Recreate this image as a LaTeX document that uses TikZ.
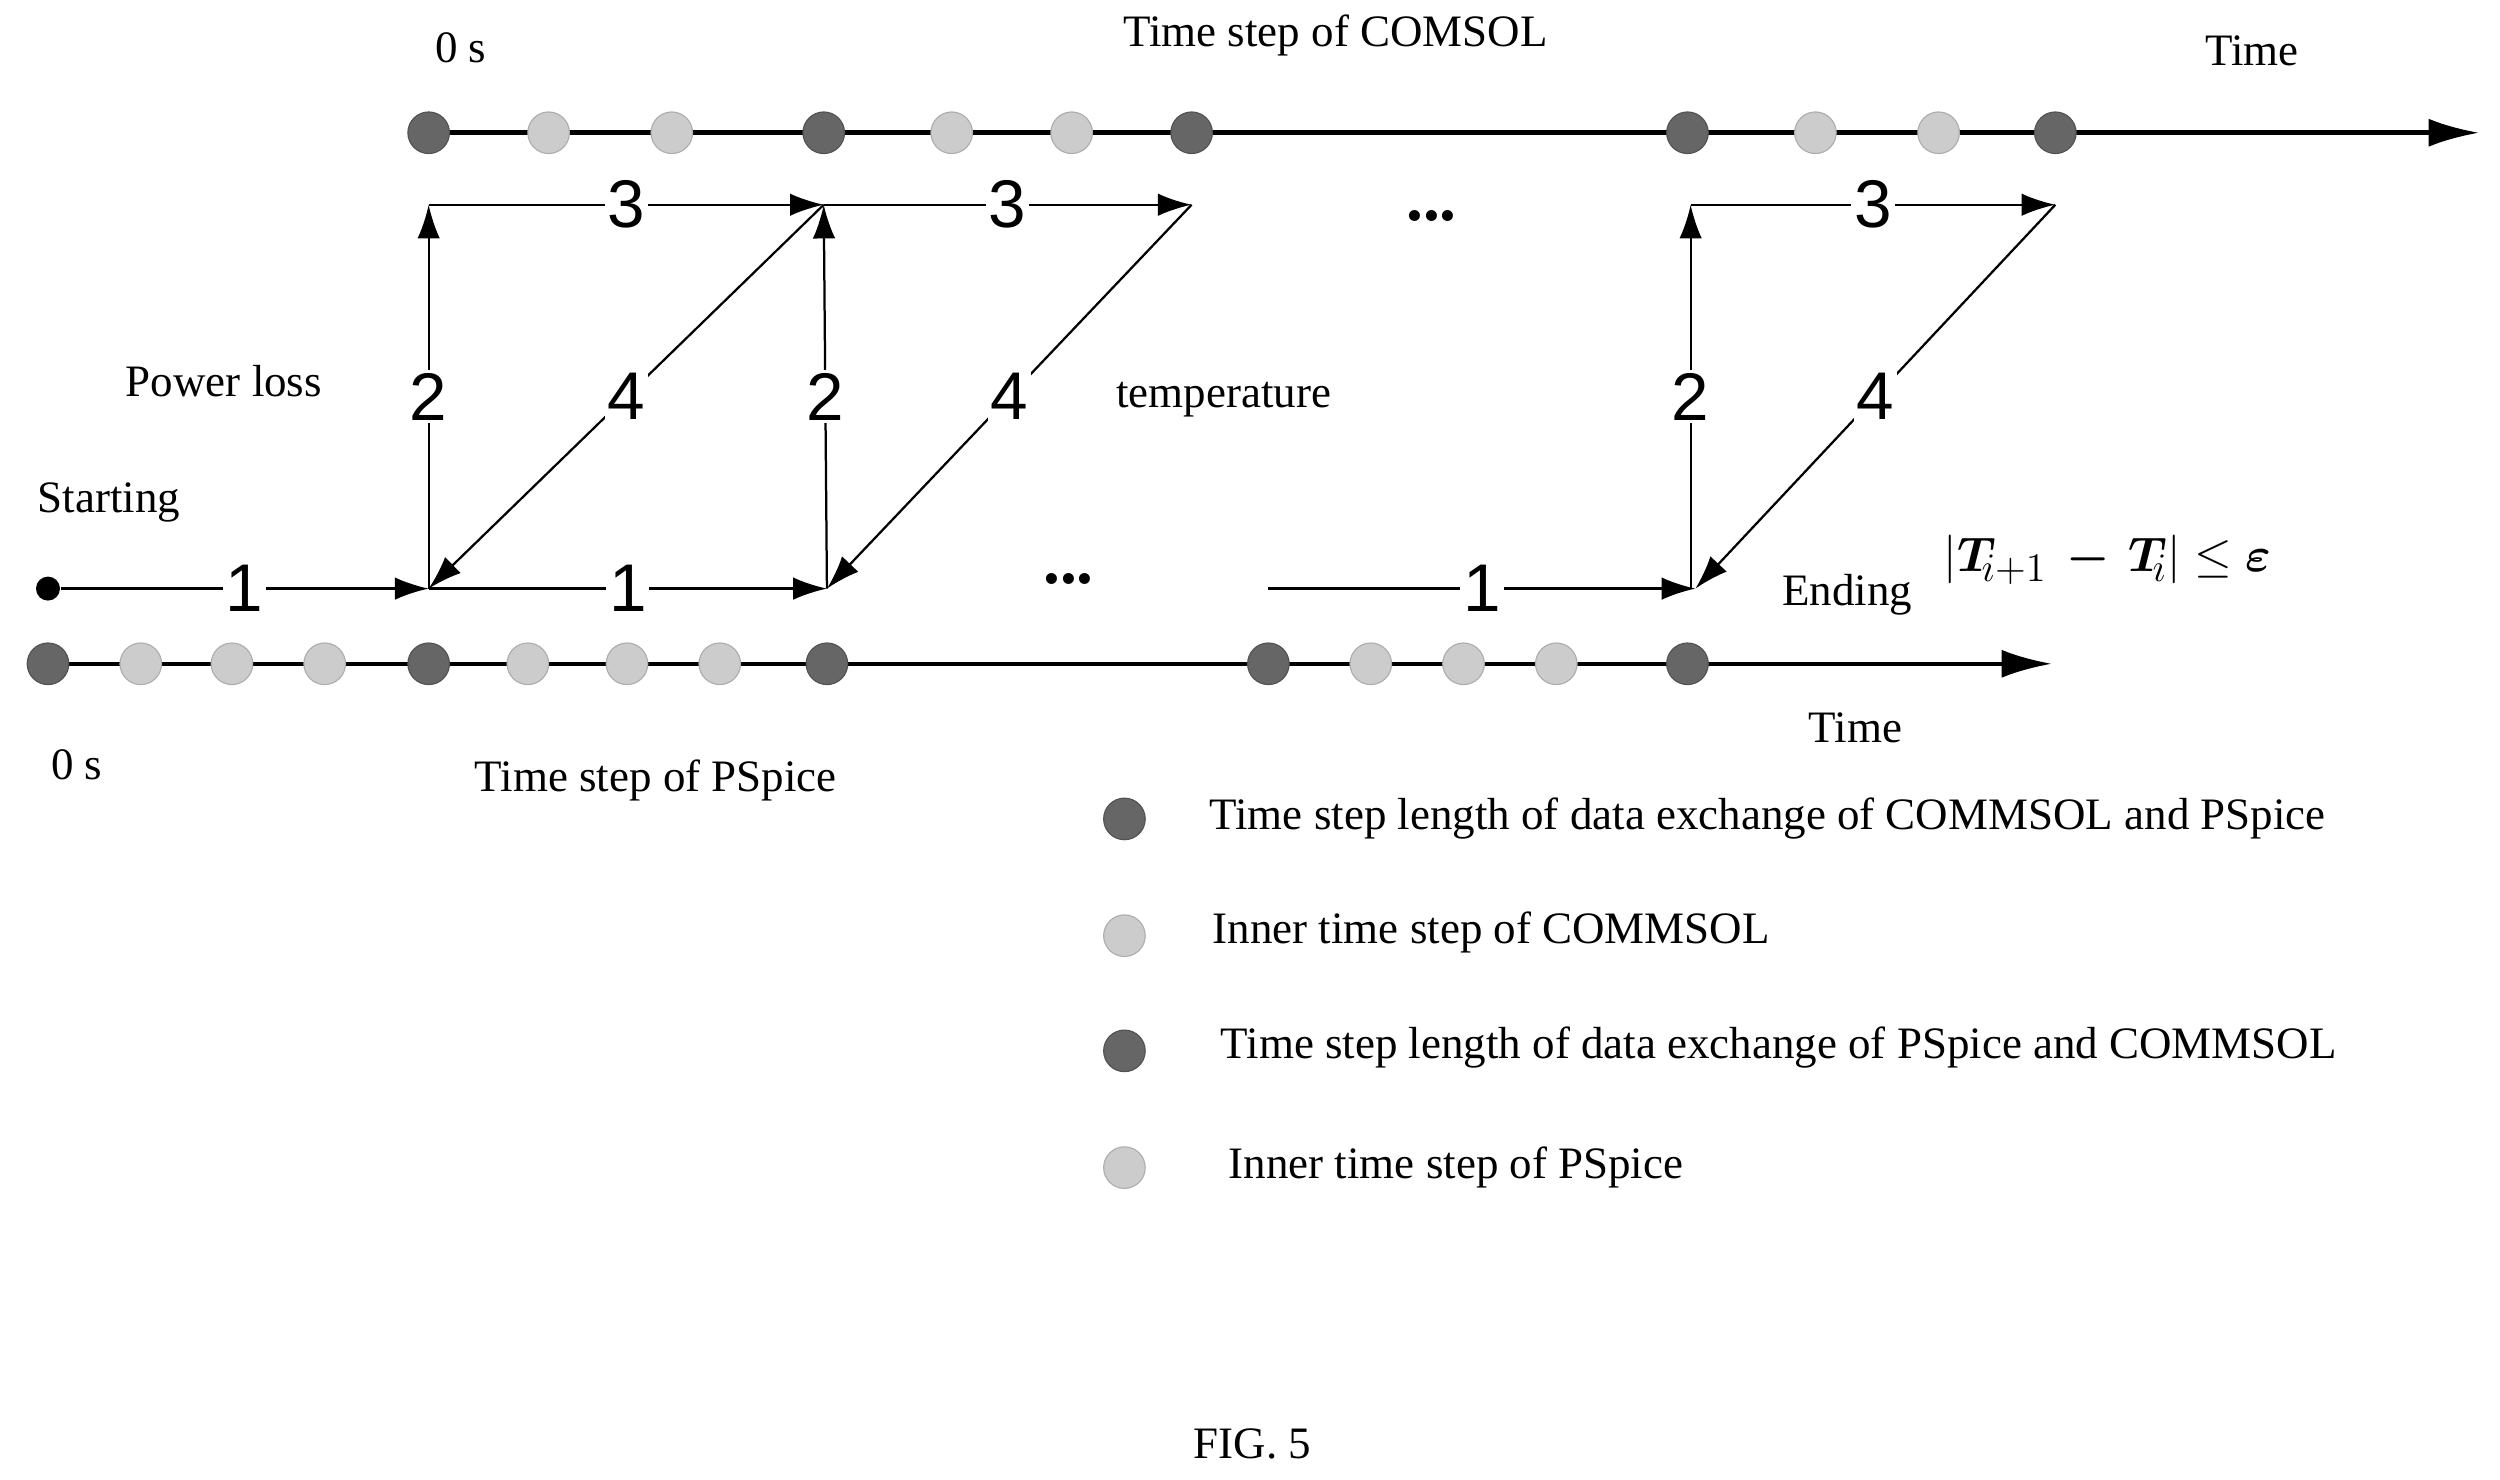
\documentclass[tikz,border=0pt]{standalone}
\usepackage{fontspec}
\usepackage{bm}
\setmainfont{Liberation Serif}
\newfontfamily\numfont{Liberation Sans}
\usetikzlibrary{arrows.meta,positioning}
\definecolor{darkdot}{HTML}{666666}
\definecolor{lightdot}{HTML}{CCCCCC}
\tikzset{
  dark/.style={circle,fill=darkdot,draw=darkdot!80!black,inner sep=0pt,minimum size=26*0.02cm},
  light/.style={circle,fill=lightdot,draw=lightdot!85!black,inner sep=0pt,minimum size=26*0.02cm},
  axis/.style={line width=1.6pt,-{Latex[length=18pt,width=10pt]}},
  flow/.style={line width=0.8pt,-{Latex[length=12pt,width=8pt]}},
  num/.style={fill=white,inner sep=1pt,font=\numfont\fontsize{24}{24}\selectfont},
  lbl/.style={font=\fontsize{16}{18}\selectfont},
}
\begin{document}
\begin{tikzpicture}[x=0.02cm,y=-0.02cm]
      \useasboundingbox (0,0) rectangle (1563,925);
      % COMSOL axis
      \coordinate (ctip) at (1550,83);
      \draw[axis] (268,83) -- (ctip);
      \foreach \x/\s/\n in {268/dark/c1,343/light/c2,420/light/c3,515/dark/c4,595/light/c5,670/light/c6,745/dark/c7,1055/dark/c8,1135/light/c9,1212/light/c10,1285/dark/c11}
        \node[\s] (\n) at (\x,83) {};
      \node[lbl] at (288,30) {0 s};
      \node[lbl] at (835,22) {Time step of COMSOL};
      \node[lbl] at (1408,32) {Time};
      % PSpice axis
      \coordinate (ptip) at (1283,415);
      \draw[axis] (30,415) -- (ptip);
      \foreach \x/\s/\n in {30/dark/p1,88/light/p2,145/light/p3,203/light/p4,268/dark/p5,330/light/p6,392/light/p7,450/light/p8,517/dark/p9,793/dark/p10,857/light/p11,915/light/p12,973/light/p13,1055/dark/p14}
        \node[\s] (\n) at (\x,415) {};
      \node[lbl] at (48,478) {0 s};
      \node[lbl] at (410,488) {Time step of PSpice};
      \node[lbl] at (1160,455) {Time};
      % exchange path
      \node[circle,fill=black,inner sep=0pt,minimum size=0.3cm] (start) at (30,368) {};
      \coordinate (a1) at (268,368); \coordinate (b1) at (268,128);
      \coordinate (a2) at (517,368); \coordinate (b2) at (515,128);
      \coordinate (b3) at (745,128);
      \coordinate (a0) at (793,368);
      \coordinate (a3) at (1060,368); \coordinate (b4) at (1057,128);
      \coordinate (b5) at (1285,128);
      \draw[flow] (start) to node[num] {1} (a1);
      \draw[flow] (a1) to node[num] {1} (a2);
      \draw[flow] (a0) to node[num] {1} (a3);
      \draw[flow] (a1) to node[num] {2} (b1);
      \draw[flow] (a2) to node[num] {2} (b2);
      \draw[flow] (1057,368) to node[num] {2} (b4);
      \draw[flow] (b1) to node[num] {3} (b2);
      \draw[flow] (b2) to node[num] {3} (b3);
      \draw[flow] (b4) to node[num] {3} (b5);
      \draw[flow] (b2) to node[num] {4} (a1);
      \draw[flow] (b3) to node[num] {4} (a2);
      \draw[flow] (b5) to node[num] {4} (a3);
      \node[font=\bfseries\fontsize{24}{24}\selectfont] at (895,135) {...};
      \node[font=\bfseries\fontsize{24}{24}\selectfont] at (668,362) {...};
      \node[lbl] at (140,238) {Power loss};
      \node[lbl] at (765,250) {temperature};
      \node[lbl] at (68,314) {Starting};
      \node[lbl] at (1155,372) {Ending};
      \node[font=\fontsize{19}{19}\selectfont,anchor=west,inner sep=0pt] at (1215,350) {$\left|\bm{T}_{\!i+1}\,\bm{-}\,\bm{T}_{\!i}\right|\le\bm{\varepsilon}$};
      % legend
      \node[dark] (l1) at (703,512) {};
      \node[light] (l2) at (703,585) {};
      \node[dark] (l3) at (703,657) {};
      \node[light] (l4) at (703,730) {};
      \node[lbl,anchor=west] at (750,512) {Time step length of data exchange of COMMSOL and PSpice};
      \node[lbl,anchor=west] at (752,583) {Inner time step of COMMSOL};
      \node[lbl,anchor=west] at (757,655) {Time step length of data exchange of PSpice and COMMSOL};
      \node[lbl,anchor=west] at (762,730) {Inner time step of PSpice};
      \node[lbl] at (783,903) {FIG. 5};
\end{tikzpicture}
\end{document}
